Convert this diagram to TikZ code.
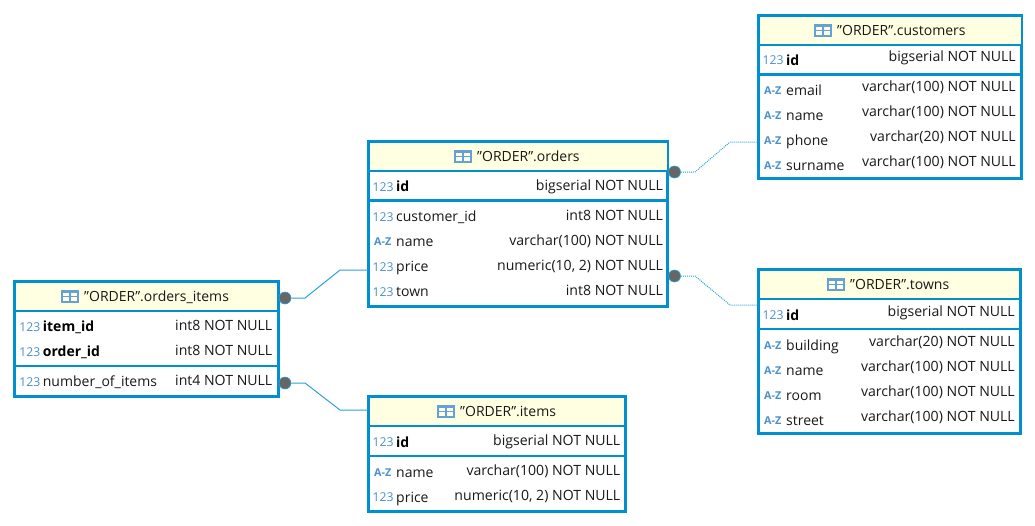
\documentclass[tikz,border=0pt]{standalone}
\usepackage{fontspec}
\setmainfont[Ligatures=NoCommon]{Open Sans}
\definecolor{erblue}{HTML}{0090D0}
\definecolor{hdr}{HTML}{FFFFE1}
\definecolor{iconblue}{HTML}{4A90CC}
\definecolor{dotgrey}{HTML}{666666}
\definecolor{linkblue}{HTML}{2BA3DA}
\tikzset{
  tablebox/.style={draw=erblue,line width=3pt,fill=white,inner sep=0pt,outer sep=0pt,anchor=north west},
  sepline/.style={draw=erblue,line width=2.6pt},
  coltext/.style={inner sep=0pt,font=\fontsize{14}{16}\selectfont,text=black!90},
  leftcol/.style={coltext,anchor=base west},
  keycol/.style={leftcol,font=\fontsize{14}{16}\selectfont\bfseries,text=black},
  rightcol/.style={coltext,anchor=base east,font=\fontsize{14.1}{16}\selectfont},
  titletext/.style={coltext,anchor=base west},
  numicon/.style={inner sep=0pt,anchor=base west,text=iconblue,font=\fontsize{12.2}{14}\selectfont},
  azicon/.style={inner sep=0pt,anchor=base west,text=iconblue,font=\fontsize{10.8}{12}\selectfont\bfseries},
  enddot/.style={circle,fill=dotgrey,draw=linkblue,line width=.6pt,minimum size=12pt,inner sep=0pt},
  linksolid/.style={draw=linkblue,line width=1pt},
  linkdotted/.style={draw=linkblue,line width=1pt,dash pattern=on 1pt off 1pt},
}
\newcommand{\typerise}{1.7}
% name, x0, y0, x1, y1, first separator, second separator, title icon x, title
\newcommand{\ertable}[9]{%
  \node[tablebox,minimum width=#4pt-#2pt,minimum height=#5pt-#3pt] (#1) at (#2,#3) {};
  \fill[hdr] (#2+1,#3+1) rectangle (#4-1,#6);
  \draw[sepline] (#2,#6) -- (#4,#6);
  \draw[sepline] (#2,#7) -- (#4,#7);
  \node[inner sep=0pt,anchor=north west,minimum width=18pt,minimum height=12.5pt,fill=iconblue!85!white,draw=none] (#1icon) at (#8,#3+8.5) {};
  \fill[hdr!70!white] (#8+1.6,#3+11.2) rectangle (#8+8.3,#3+14.3);
  \fill[hdr!70!white] (#8+9.7,#3+11.2) rectangle (#8+16.4,#3+14.3);
  \fill[hdr!70!white] (#8+1.6,#3+15.6) rectangle (#8+8.3,#3+19.4);
  \fill[hdr!70!white] (#8+9.7,#3+15.6) rectangle (#8+16.4,#3+19.4);
  \node[titletext] (#1title) at (#8+23,#3+20) {\symbol{34}ORDER\symbol{34}#9};
}
% name, key?(leftcol/keycol), left x, right x, left baseline, text, type
\newcommand{\ernum}[7]{%
  \node[numicon] (#1i) at (#3+4,#5-.3) {123};
  \node[#2] (#1n) at (#3+27.5,#5) {#6};
  \node[rightcol] (#1t) at (#4-5.5,#5-\typerise) {#7};
}
\newcommand{\eraz}[7]{%
  \node[azicon] (#1i) at (#3+5.5,#5-1) {A-Z};
  \node[#2] (#1n) at (#3+27.5,#5) {#6};
  \node[rightcol] (#1t) at (#4-5.5,#5-\typerise) {#7};
}
\begin{document}
\begin{tikzpicture}[x=1pt,y=-1pt]
\useasboundingbox[fill=white] (0,0) rectangle (1035,525);

\coordinate (ca1) at (695,172); \coordinate (ca2) at (730,142); \coordinate (ca3) at (758,142);
\coordinate (cb1) at (695,276); \coordinate (cb2) at (730,305); \coordinate (cb3) at (758,305);
\coordinate (cc1) at (305,298); \coordinate (cc2) at (340,270); \coordinate (cc3) at (368,270);
\coordinate (cd1) at (305,383); \coordinate (cd2) at (340,410); \coordinate (cd3) at (368,410);

\renewcommand{\typerise}{3.3}
\ertable{customers}{758.5}{15.5}{1021.5}{178.5}{45}{74.5}{814}{.customers}
\ernum{cuid}{keycol}{758.5}{1021.5}{65}{id}{bigserial NOT NULL}
\eraz{cuem}{leftcol}{758.5}{1021.5}{95}{email}{varchar(100) NOT NULL}
\eraz{cuna}{leftcol}{758.5}{1021.5}{120}{name}{varchar(100) NOT NULL}
\eraz{cuph}{leftcol}{758.5}{1021.5}{145}{phone}{varchar(20) NOT NULL}
\eraz{cusu}{leftcol}{758.5}{1021.5}{170}{surname}{varchar(100) NOT NULL}

\ertable{towns}{758.5}{269.5}{1020}{433.5}{299}{329}{827}{.towns}
\ernum{toid}{keycol}{758.5}{1020.5}{320}{id}{bigserial NOT NULL}
\eraz{tobu}{leftcol}{758.5}{1020.5}{350}{building}{varchar(20) NOT NULL}
\eraz{tona}{leftcol}{758.5}{1020.5}{375}{name}{varchar(100) NOT NULL}
\eraz{toro}{leftcol}{758.5}{1020.5}{400}{room}{varchar(100) NOT NULL}
\eraz{tost}{leftcol}{758.5}{1020.5}{425}{street}{varchar(100) NOT NULL}

\renewcommand{\typerise}{1.7}
\ertable{orders}{368.5}{141.5}{667.7}{306.5}{171}{200.5}{454}{.orders}
\ernum{orid}{keycol}{368.5}{668.7}{191.7}{id}{bigserial NOT NULL}
\ernum{orcu}{leftcol}{368.5}{668.7}{221.7}{customer\_id}{int8 NOT NULL}
\eraz{orna}{leftcol}{368.5}{668.7}{246.7}{name}{varchar(100) NOT NULL}
\ernum{orpr}{leftcol}{368.5}{668.7}{271.7}{price}{numeric(10, 2) NOT NULL}
\ernum{orto}{leftcol}{368.5}{668.7}{296.7}{town}{int8 NOT NULL}

\ertable{oitems}{14.5}{281.5}{278}{396.5}{311}{366}{61}{.orders\_items}
\ernum{oiit}{keycol}{15.2}{278}{331.7}{item\_id}{int8 NOT NULL}
\ernum{oior}{keycol}{15.2}{278}{356.7}{order\_id}{int8 NOT NULL}
\ernum{oinu}{leftcol}{15.2}{278}{386.7}{number\_of\_items}{int4 NOT NULL}

\ertable{items}{368.5}{396.5}{625}{511.5}{426}{456}{437}{.items}
\ernum{itid}{keycol}{368.5}{626}{447}{id}{bigserial NOT NULL}
\eraz{itna}{leftcol}{368.5}{626}{477}{name}{varchar(100) NOT NULL}
\ernum{itpr}{leftcol}{368.5}{626}{502}{price}{numeric(10, 2) NOT NULL}

\node[enddot] (da) at (674.5,172) {};
\node[enddot] (db) at (674.5,276) {};
\node[enddot] (dc) at (285,298) {};
\node[enddot] (dd) at (285,383) {};

\draw[linkdotted] (da) -- (ca1) -- (ca2) -- (ca3);
\draw[linkdotted] (db) -- (cb1) -- (cb2) -- (cb3);
\draw[linksolid] (dc) -- (cc1) -- (cc2) -- (cc3);
\draw[linksolid] (dd) -- (cd1) -- (cd2) -- (cd3);
\end{tikzpicture}
\end{document}
